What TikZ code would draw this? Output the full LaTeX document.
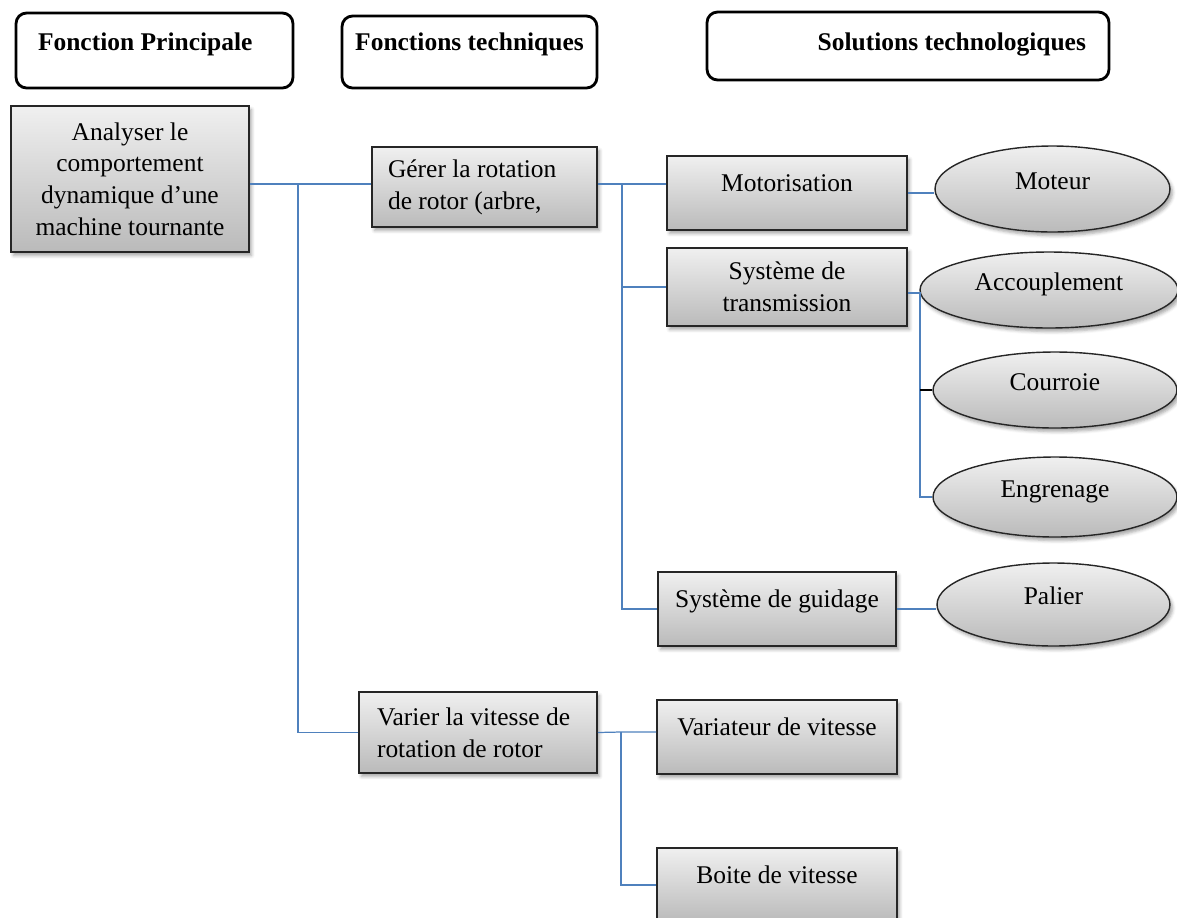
\documentclass[tikz,border=0pt]{standalone}
\usepackage{fontspec}
\setmainfont{Liberation Serif}
\usepackage{xcolor}
\usepackage{tikz}
\usetikzlibrary{positioning, shapes.geometric, shadows.blur}
\definecolor{link blue}{HTML}{4F81BD}
\newcommand{\diagfont}{\fontsize{14.5pt}{18.1pt}\selectfont}
\tikzset{
title box/.style = { rectangle, draw = black, line width = 1.6pt, fill = white, rounded corners = 6pt, inner ysep = 0pt, font = \diagfont\bfseries },
task box/.style = { rectangle, draw = black!85, line width = 0.9pt, top color = black!6, bottom color = black!27, inner ysep = 0pt, font = \diagfont,
    blur shadow={shadow xshift=0.5mm,shadow yshift=-0.7mm,shadow opacity=35,shadow blur steps=4} },
one line/.style = { text height = 0.7cm, text depth = 0.78cm },
solution/.style = { ellipse, draw = black!85, line width = 0.8pt, top color = black!6, bottom color = black!27, inner sep = 0pt, font = \diagfont,
    text height = 0.3cm, text depth = 0.3cm,
    blur shadow={shadow xshift=0.5mm,shadow yshift=-0.7mm,shadow opacity=35,shadow blur steps=4} },
link/.style = { draw = link blue, line width = 0.7pt },
}

\begin{document}
\begin{tikzpicture}[x = 0.02cm, y = -0.02cm]
    \path[use as bounding box] (0, 0) rectangle (1177, 917);
    \clip (0, 0) rectangle (1177, 917);
    % column titles
    \node[title box, align = flush left, text width = 4.66cm, inner xsep = 0.44cm, text height = 0.74cm, text depth = 0.76cm] (principale) at (154.5, 50.5) {Fonction Principale};
    \node[title box, minimum width = 5.1cm, inner xsep = 0pt, text height = 0.68cm, text depth = 0.76cm] (techniques) at (469.5, 52) {Fonctions techniques};
    \node[title box, align = flush right, text width = 7.12cm, inner xsep = 0.46cm, text height = 0.76cm, text depth = 0.6cm] (solutions) at (908, 46) {Solutions technologiques};

    % functions
    \node[task box, minimum width = 4.76cm, minimum height = 2.92cm, align = center] (analyse) at (130, 179) {Analyser le\\comportement\\dynamique d’une\\machine tournante};
    \node[task box, minimum width = 4.5cm, minimum height = 1.6cm, text width = 3.86cm, inner xsep = 0.32cm, align = flush left] (gerer) at (484.5, 187) {Gérer la rotation\\de rotor (arbre,};
    \node[task box, minimum width = 4.76cm, minimum height = 1.62cm, text width = 4.04cm, inner xsep = 0.36cm, align = flush left] (varier) at (478, 732.5) {Varier la vitesse de\\rotation de rotor};

    \node[task box, one line, minimum width = 4.8cm] (motorisation) at (787, 193) {Motorisation};
    \node[task box, minimum width = 4.8cm, minimum height = 1.56cm, align = center] (transmission) at (787, 287) {Système de\\transmission};
    \node[task box, one line, minimum width = 4.76cm] (guidage) at (777, 609) {Système de guidage};
    \node[task box, one line, minimum width = 4.8cm] (variateur) at (777, 737) {Variateur de vitesse};
    \node[task box, one line, minimum width = 4.8cm] (boite) at (777, 885) {Boite de vitesse};

    % solutions
    \node[solution, minimum width = 4.7cm, minimum height = 1.72cm] (moteur) at (1052.5, 189) {Moteur};
    \node[solution, minimum width = 5.16cm, minimum height = 1.52cm] (accouplement) at (1049, 290) {Accouplement};
    \node[solution, minimum width = 4.88cm, minimum height = 1.52cm] (courroie) at (1055, 390) {Courroie};
    \node[solution, minimum width = 4.88cm, minimum height = 1.6cm] (engrenage) at (1055, 497) {Engrenage};
    \node[solution, minimum width = 4.66cm, minimum height = 1.66cm] (palier) at (1053.5, 604.5) {Palier};

    % links
    \coordinate (main fork) at (298, 184);
    \coordinate (tech fork) at (622, 184);
    \coordinate (trans fork) at (920, 293);
    \coordinate (speed fork) at (621, 732);
    \draw[link] (analyse.east |- main fork) -- (gerer.west |- main fork);
    \draw[link] (main fork) |- (varier.west);
    \draw[link] (gerer.east |- tech fork) -- (motorisation.west |- tech fork);
    \draw[link] (tech fork) |- (transmission.west);
    \draw[link] (tech fork) |- (guidage.west);
    \draw[link] (motorisation.east) -- (motorisation.east -| moteur.west);
    \draw[link] (transmission.east |- trans fork) -- (trans fork) |- (engrenage.west);
    \draw[black, line width = 0.7pt] (trans fork |- courroie.west) -- (courroie.west);
    \draw[link] (guidage.east) -- (guidage.east -| palier.west);
    \draw[link] (varier.east) -- (speed fork) -- (speed fork -| variateur.west);
    \draw[link] (speed fork) |- (boite.west);
\end{tikzpicture}
\end{document}
